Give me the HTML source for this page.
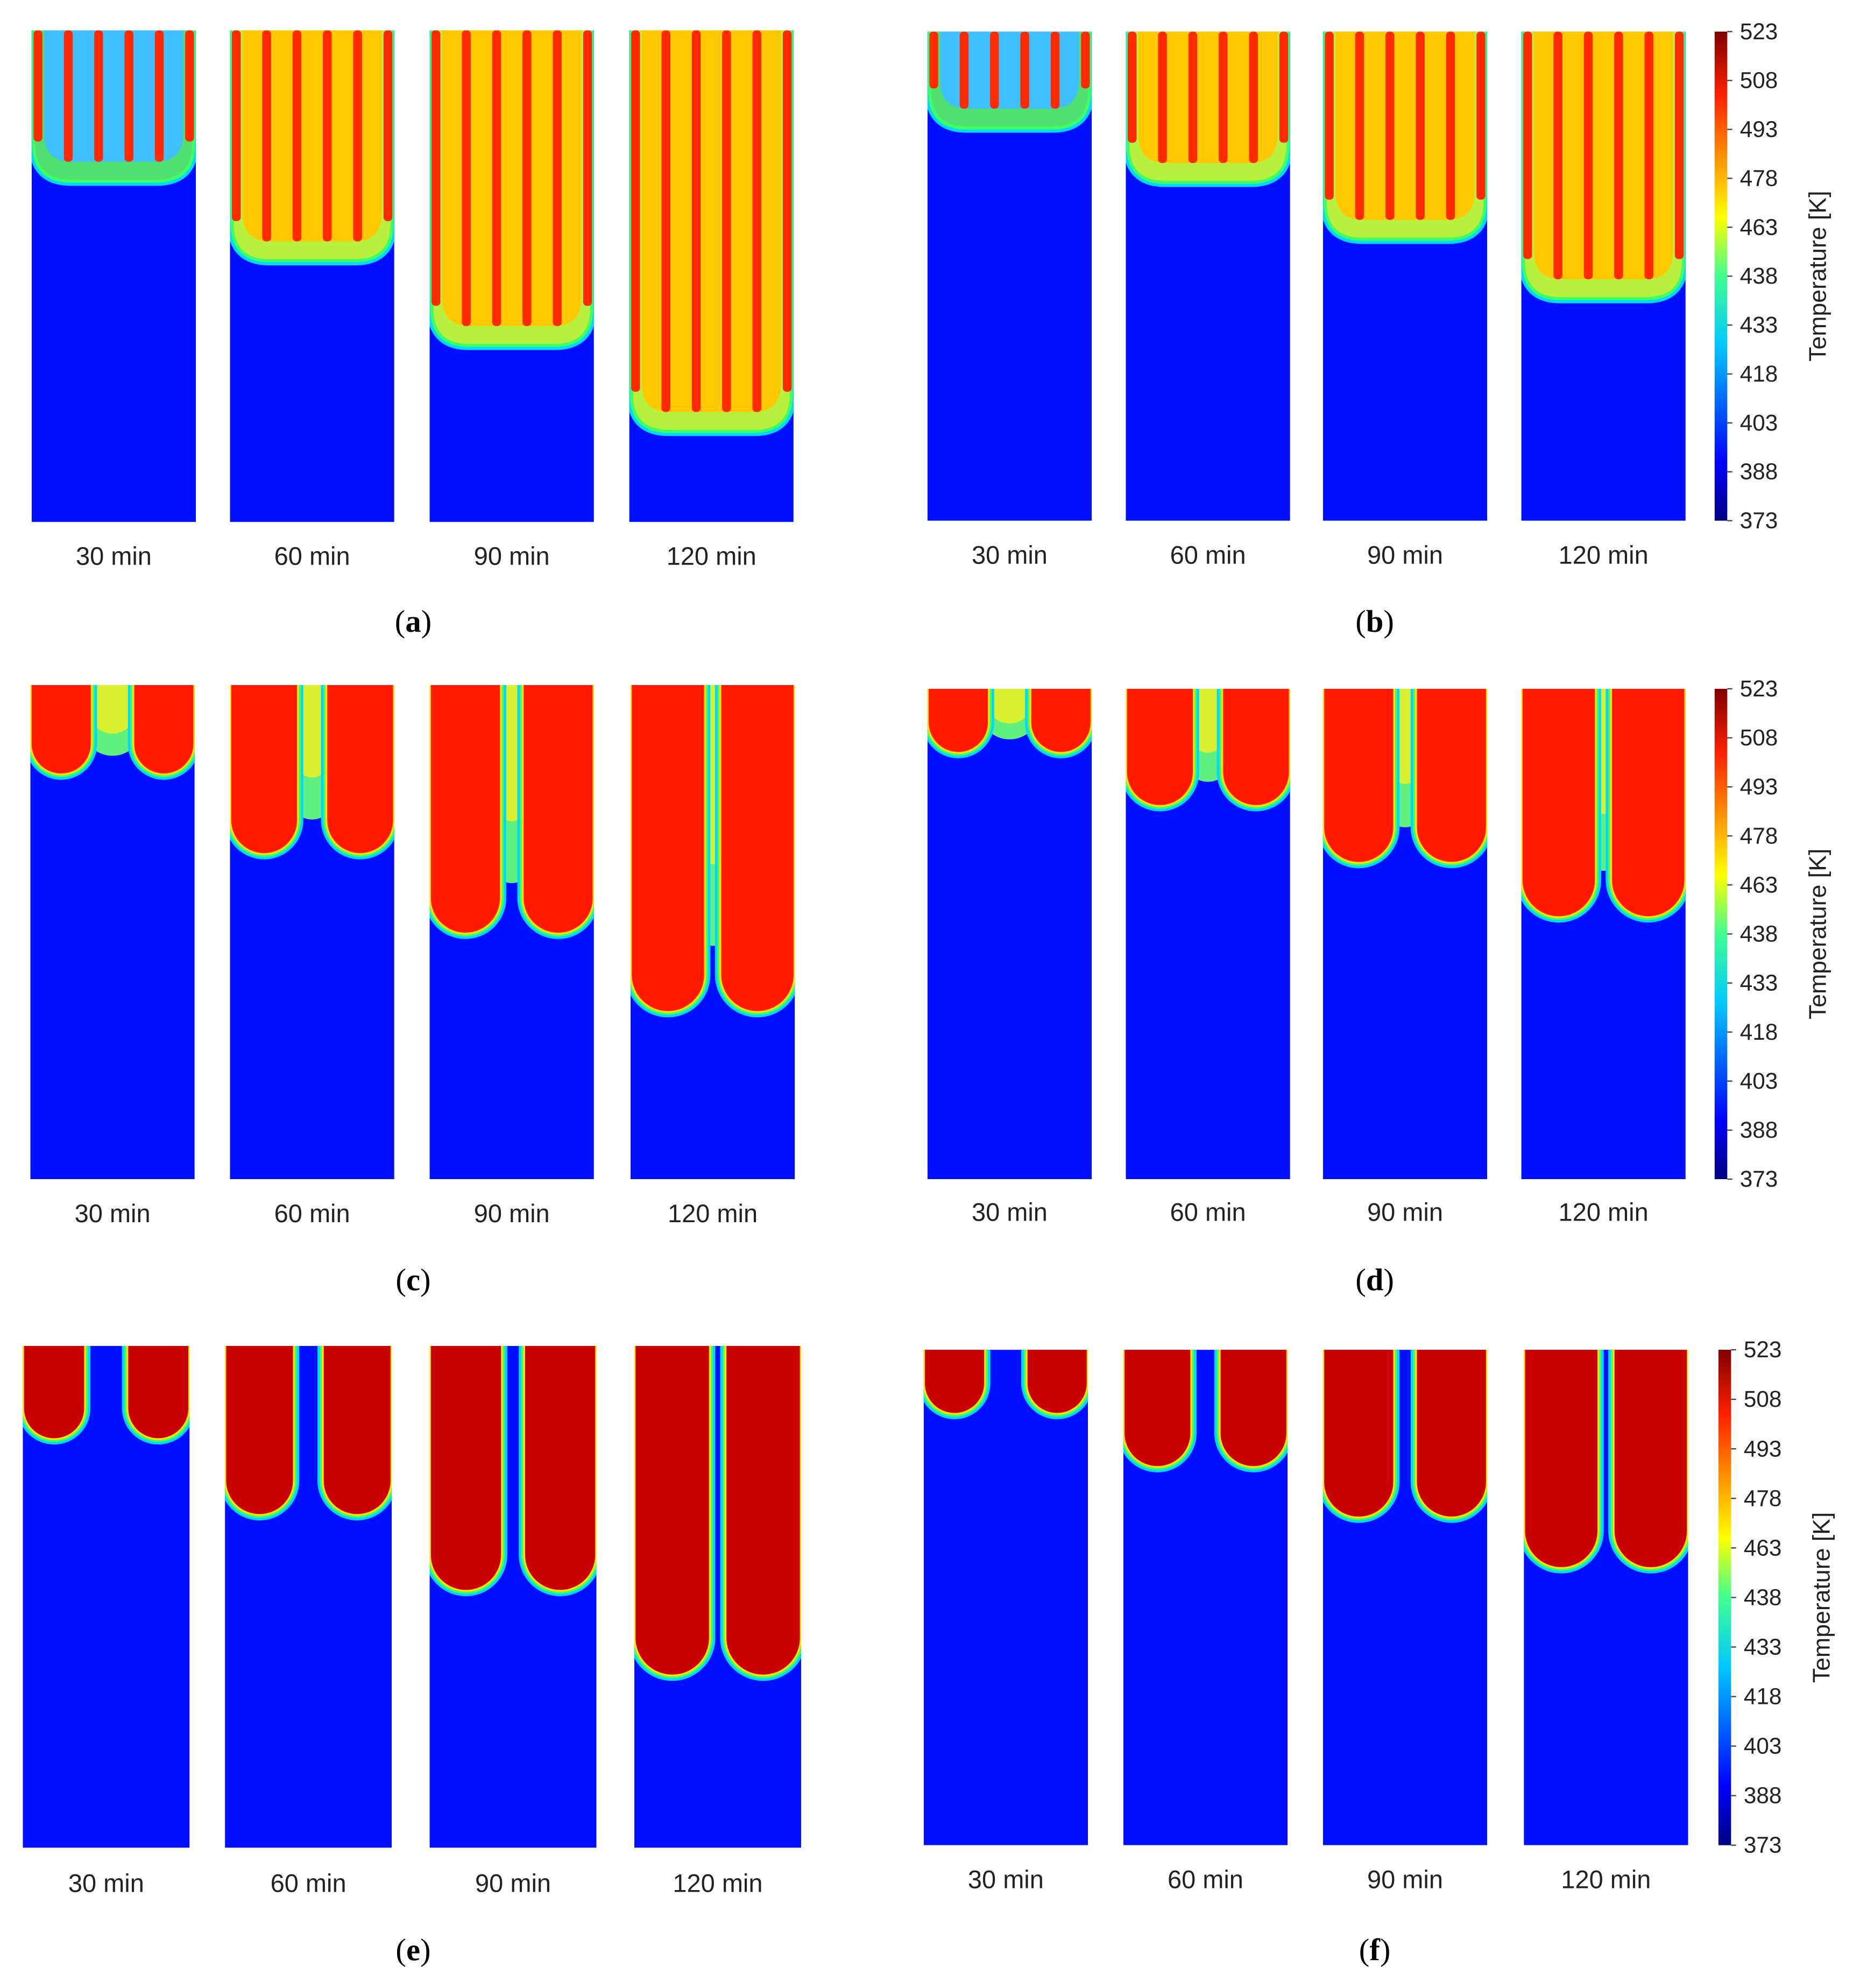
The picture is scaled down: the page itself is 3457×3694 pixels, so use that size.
<!DOCTYPE html>
<html><head><meta charset="utf-8"><style>
html,body{margin:0;padding:0;background:#fff}
svg{display:block}
text{font-family:"Liberation Sans",Arial,sans-serif;fill:#222}
</style></head><body>
<svg id="fig" xmlns="http://www.w3.org/2000/svg" width="3457" height="3694" viewBox="0 0 1472 1573">
<defs id="defs">
<linearGradient id="jet" x1="0" y1="1" x2="0" y2="0">
<stop offset="0" stop-color="#00007f"/><stop offset="0.12" stop-color="#0000ff"/><stop offset="0.36" stop-color="#00c8ff"/><stop offset="0.5" stop-color="#40ff90"/><stop offset="0.62" stop-color="#ffff00"/><stop offset="0.87" stop-color="#ff2000"/><stop offset="1" stop-color="#7f0000"/>
</linearGradient>
</defs>
</svg>
<script>
// data
const times = ["30 min","60 min","90 min","120 min"];
const depthA = [118,181,248,316];
const depthB = [75,118,163,210];
const depthC = [70,133,196,258];
const depthD = [50,92,137,180];
const depthE = [73,133,193,260];
const depthF = [50,92,132,172];
const lobeW = [0.36,0.40,0.42,0.44];
const tickLabels = ["523","508","493","478","463","438","433","418","403","388","373"];
const panelLetters = ["a","b","c","d","e","f"];

const NS="http://www.w3.org/2000/svg";
const svg=document.getElementById('fig');
const defs=document.getElementById('defs');
function mk(tag,attrs,parent){const e=document.createElementNS(NS,tag);for(const k in attrs)e.setAttribute(k,attrs[k]);(parent||svg).appendChild(e);return e;}

const rows=[
 {letter:0,xs:[25,182,340,498],w:130,y:24,h:389,lab:440,cap:[327,492],d:depthA,type:'mix'},
 {letter:1,xs:[734,891,1047,1204],w:130,y:25,h:387,lab:439,cap:[1088,492],d:depthB,type:'mix',cb:true},
 {letter:2,xs:[24,182,340,499],w:130,y:542,h:391,lab:960,cap:[327,1013],d:depthC,type:'lobe',center:true},
 {letter:3,xs:[734,891,1047,1204],w:130,y:545,h:388,lab:959,cap:[1088,1013],d:depthD,type:'lobe',center:true,cb:true},
 {letter:4,xs:[18,178,340,502],w:132,y:1065,h:397,lab:1490,cap:[327,1543],d:depthE,type:'lobe',dark:true},
 {letter:5,xs:[731,889,1047,1206],w:130,y:1068,h:392,lab:1487,cap:[1088,1543],d:depthF,type:'lobe',dark:true,cb:true}
];

function lobeOpen(x0,x1,y0,yb){const r=(x1-x0)/2;const yc=Math.max(y0+2,yb-r);return `M${x0},${y0} V${yc} A${r},${r} 0 0 0 ${x1},${yc} V${y0}`;}
function flatOpen(x0,x1,y0,yb,r){const yc=Math.max(y0+2,yb-r);return `M${x0},${y0} V${yc} Q${x0},${yb} ${x0+r},${yb} H${x1-r} Q${x1},${yb} ${x1},${yc} V${y0}`;}
let cid=0;
rows.forEach((R,ri)=>{
 const g=mk('g',{});
 
 
 R.xs.forEach((x,i)=>{
  const id='clip'+(cid++);
  const cp=mk('clipPath',{id:id},defs);
  mk('rect',{x:x,y:R.y,width:R.w,height:R.h},cp);
  const pg=mk('g',{'clip-path':'url(#'+id+')'},g);
  
  
  const bg=mk('rect',{x:x,y:R.y,width:R.w,height:R.h,fill:'#0010ff'},pg);
  
  
  const d=R.d[i], y0=R.y, yb=R.y+d;
  if(R.type==='mix'){
   const p=flatOpen(x+3,x+R.w-3,y0,yb,28);
   [['#00d8ff',10],['#40ff60',5]].forEach(s=>{const e=mk('path',{d:p,fill:'none',stroke:s[0],'stroke-width':s[1]},pg);});
   const f=mk('path',{d:p+'Z',fill:(i===0)?'#50e070':'#b8f040'},pg);
   
   
   const inner=mk('path',{d:flatOpen(x+10,x+R.w-10,y0,yb-14,22)+'Z',fill:i===0?'#40c0ff':'#ffc800'},pg);
   
   
   for(let k=0;k<6;k++){
    const sx=x+5+k*(R.w-10)/5;
    const st=mk('rect',{x:sx-3.5,y:y0,width:7,height:Math.max(0,d-(k===0||k===5?30:14)),fill:'#ff2a00',rx:3},pg);
    
    
   }
  } else {
   const lw=lobeW[i]*R.w;
   const red=R.dark?'#c80000':'#ff1a00';
   if(R.center){
    const c=mk('path',{d:lobeOpen(x+lw-6,x+R.w-lw+6,y0,y0+d*0.8)+'Z',fill:'#60f080'},pg);
    
    
    const c2=mk('path',{d:lobeOpen(x+lw,x+R.w-lw,y0,y0+d*0.55)+'Z',fill:'#d8f030'},pg);
    
    
   }
   [[x+1,x+1+lw],[x+R.w-1-lw,x+R.w-1]].forEach((ab,j)=>{
    const p=lobeOpen(ab[0],ab[1],y0,yb);
    [['#00d8ff',10],['#40ff60',6],['#ffe000',3]].forEach(s=>{const e=mk('path',{d:p,fill:'none',stroke:s[0],'stroke-width':s[1]},pg);});
    const e=mk('path',{d:p+'Z',fill:red},pg);
    
    
   });
  }
  const t=mk('text',{x:x+R.w/2,y:R.lab+7,'text-anchor':'middle','font-size':20},g);
  t.textContent=times[i];
  
  
 });
 const cap=mk('text',{x:R.cap[0],y:R.cap[1]+8,'text-anchor':'middle','font-size':25,style:'font-family:"Liberation Serif",serif;fill:#000'},g);
 cap.innerHTML='(<tspan font-weight="bold">'+panelLetters[R.letter]+'</tspan>)';
 
 
 if(R.cb){
  const cg=mk('g',{},g);
  
  
  const cx=R.letter===5?1360:1357;
  const bar=mk('rect',{x:cx,y:R.y,width:10,height:R.h,fill:'url(#jet)'},cg);
  
  
  tickLabels.forEach((tl,k)=>{
   const ty=R.y+k*R.h/(tickLabels.length-1);
   const tk=mk('line',{x1:cx+10,x2:cx+14,y1:ty,y2:ty,stroke:'#444','stroke-width':1},cg);
   
   
   const tt=mk('text',{x:cx+20,y:ty+6,'font-size':18},cg);
   tt.textContent=tl;
   
   
  });
  const ty=R.y+R.h/2;
  const title=mk('text',{x:cx+88,y:ty,'font-size':19,'text-anchor':'middle',transform:`rotate(-90 ${cx+88} ${ty})`},cg);
  title.textContent='Temperature [K]';
  
  
 }
});
</script>
</body></html>
